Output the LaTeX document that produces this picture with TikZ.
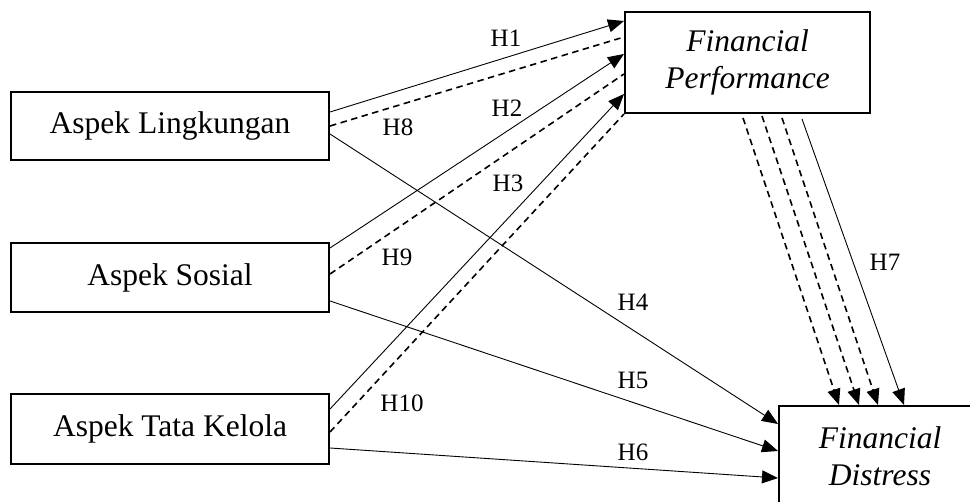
\documentclass[tikz,border=0pt]{standalone}
\usepackage{fontspec}
\setmainfont{Liberation Serif}
\usetikzlibrary{arrows.meta,calc}
\tikzset{
  varbox/.style={draw, line width=2pt, inner sep=0pt, font=\fontsize{31.5}{37}\selectfont, align=center},
  conn/.style={line width=0.9pt},
  connarrow/.style={line width=0.9pt, -{Triangle[length=16pt,width=13pt]}},
  dashconn/.style={line width=1.6pt, dash pattern=on 6.5pt off 4.5pt},
  dasharrow/.style={line width=1.6pt, dash pattern=on 6.5pt off 4.5pt, -{Triangle[length=16pt,width=13pt]}},
  hlabel/.style={font=\fontsize{25}{30}\selectfont, inner sep=0pt}
}
\begin{document}
\begin{tikzpicture}[x=1pt,y=-1pt]
\useasboundingbox (0,0) rectangle (970,502);
\clip (0,0) rectangle (970,502);
% boxes
\node[varbox, minimum width=318pt, minimum height=68pt] (AL) at (170,126) {Aspek Lingkungan};
\node[varbox, minimum width=318pt, minimum height=69pt] (AS) at (170,277.5) {Aspek Sosial};
\node[varbox, minimum width=318pt, minimum height=70pt] (ATK) at (170,429) {Aspek Tata Kelola};
\node[varbox, minimum width=245pt, minimum height=101pt] (FP) at (747.5,62.5) {\itshape Financial\\\itshape Performance};
\node[varbox, minimum width=202pt, minimum height=101pt] (FD) at (880,456.5) {\itshape Financial\\\itshape Distress};
% Aspek Lingkungan
\draw[connarrow] ($(AL.north east)+(0,21)$) -- ($(FP.north west)+(0,10)$);
\draw[dashconn] (AL.east) -- ($(FP.north west)+(0,26)$);
\draw[connarrow] ($(AL.north east)+(0,43)$) -- ($(FD.north west)+(0,19)$);
% Aspek Sosial
\draw[connarrow] ($(AS.north east)+(0,6)$) -- ($(FP.north west)+(0,43)$);
\draw[dashconn] ($(AS.north east)+(0,32)$) -- ($(FP.north west)+(0,63)$);
\draw[connarrow] ($(AS.north east)+(0,59)$) -- ($(FD.north west)+(0,46)$);
% Aspek Tata Kelola
\draw[connarrow] ($(ATK.north east)+(0,16)$) -- ($(FP.north west)+(0,83)$);
\draw[dashconn] ($(ATK.north east)+(0,39)$) -- (FP.south west);
\draw[connarrow] ($(ATK.north east)+(0,55)$) -- ($(FD.north west)+(0,73)$);
% Financial Performance -> Financial Distress
\draw[dasharrow] ($(FP.south west)+(119,4)$) -- ($(FD.north west)+(61,0)$);
\draw[dasharrow] ($(FP.south west)+(138,2)$) -- ($(FD.north west)+(81,0)$);
\draw[dasharrow] ($(FP.south west)+(158,4)$) -- ($(FD.north west)+(100,0)$);
\draw[connarrow] ($(FP.south west)+(178,5)$) -- ($(FD.north west)+(126,0)$);
% labels
\node[hlabel] (h1) at (506,38) {H1};
\node[hlabel] (h2) at (507,108) {H2};
\node[hlabel] (h3) at (508,183) {H3};
\node[hlabel] (h8) at (398,127) {H8};
\node[hlabel] (h9) at (397,257) {H9};
\node[hlabel] (h10) at (402,403) {H10};
\node[hlabel] (h4) at (633,302) {H4};
\node[hlabel] (h5) at (633,380) {H5};
\node[hlabel] (h6) at (633,452) {H6};
\node[hlabel] (h7) at (885,262) {H7};
\end{tikzpicture}
\end{document}
